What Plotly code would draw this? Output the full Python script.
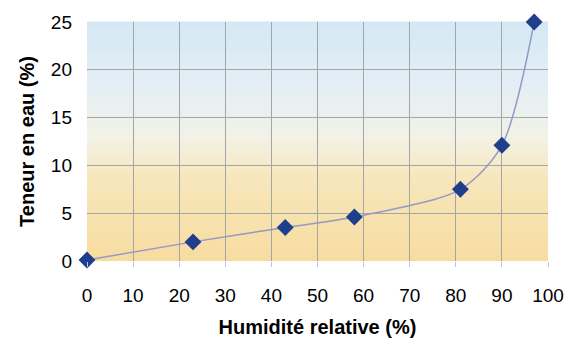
import plotly.graph_objects as go

humidite = [0, 23, 43, 58, 81, 90, 97]
teneur = [0.1, 2.0, 3.5, 4.6, 7.5, 12.1, 25.0]
x_ticks = list(range(0, 101, 10))
y_ticks = list(range(0, 26, 5))

fig = go.Figure()

# vertical gradient background (blue top -> pale middle -> yellow bottom)
def lerp(c1, c2, t):
    return tuple(round(a + (b - a) * t) for a, b in zip(c1, c2))

stops = [(0.0, (247, 220, 160)), (0.35, (247, 231, 188)), (0.52, (242, 242, 230)),
         (0.75, (226, 238, 245)), (1.0, (212, 232, 244))]
n = 80
shapes = []
for i in range(n):
    t0 = i / n
    t1 = (i + 1) / n
    tm = (t0 + t1) / 2
    for j in range(len(stops) - 1):
        if stops[j][0] <= tm <= stops[j + 1][0]:
            u = (tm - stops[j][0]) / (stops[j + 1][0] - stops[j][0])
            c = lerp(stops[j][1], stops[j + 1][1], u)
            break
    shapes.append(dict(type="rect", xref="x domain", yref="y domain",
                       x0=0, x1=1, y0=t0, y1=t1 + 0.002, layer="below",
                       line=dict(width=0), fillcolor="rgb(%d,%d,%d)" % c))

fig.add_trace(go.Scatter(
    x=humidite, y=teneur, mode="lines+markers",
    line=dict(shape="spline", smoothing=0.8, color="#9698c8", width=1.5),
    marker=dict(symbol="diamond", size=13, color="#1f3e8c"),
    showlegend=False, cliponaxis=False,
))

font = "Liberation Sans, Arial, sans-serif"
fig.update_layout(
    width=580, height=347,
    margin=dict(l=87, r=32, t=21, b=83),
    paper_bgcolor="white",
    plot_bgcolor="rgba(0,0,0,0)",
    shapes=shapes,
    font=dict(family=font, size=19, color="black"),
    xaxis=dict(
        range=[0, 100], tickvals=x_ticks, ticktext=[str(v) for v in x_ticks],
        showgrid=True, gridcolor="#a3a6a8", gridwidth=1,
        zeroline=False, showline=False, ticks="outside", ticklen=5,
        tickcolor="#b8c8d8", ticklabelstandoff=12,
        title=dict(text="<b>Humidité relative (%)</b>", font=dict(size=20), standoff=15),
    ),
    yaxis=dict(
        range=[0, 25], tickvals=y_ticks, ticktext=[str(v) for v in y_ticks],
        showgrid=True, gridcolor="#a3a6a8", gridwidth=1,
        zeroline=False, showline=False, ticks="", ticklabelstandoff=14,
        title=dict(text="<b>Teneur en eau (%)</b>", font=dict(size=20), standoff=10),
    ),
)

fig.write_html("out.html")
